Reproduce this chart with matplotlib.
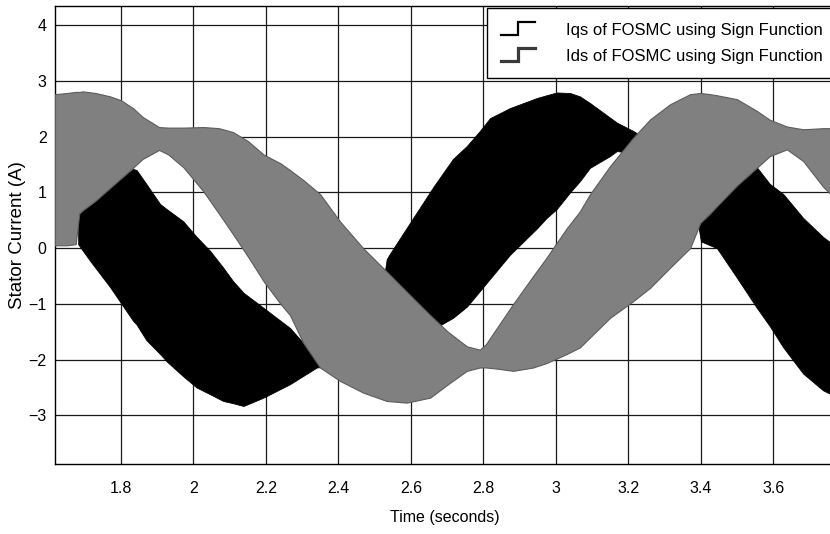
import matplotlib.pyplot as plt
from matplotlib.legend_handler import HandlerBase
from matplotlib.lines import Line2D

plt.rcParams['font.family'] = ['Liberation Sans', 'DejaVu Sans']

# Ids de FOSMC (banda gris): envolvente superior e inferior
t_ids = [1.618, 1.65, 1.675, 1.685, 1.695, 1.73, 1.77, 1.80, 1.833, 1.86, 1.905, 1.93,
         1.972, 2.027, 2.07, 2.109, 2.15, 2.193, 2.24, 2.266, 2.303, 2.349, 2.404, 2.468,
         2.533, 2.588, 2.653, 2.70, 2.754, 2.79, 2.807, 2.837, 2.882, 2.937, 2.974, 3.029,
         3.066, 3.094, 3.149, 3.213, 3.26, 3.315, 3.37, 3.398, 3.425, 3.444, 3.499, 3.554,
         3.59, 3.637, 3.682, 3.737, 3.768]
ids_hi = [2.76, 2.78, 2.80, 2.80, 2.81, 2.78, 2.72, 2.65, 2.51, 2.35, 2.17, 2.16,
          2.16, 2.17, 2.15, 2.08, 1.92, 1.68, 1.52, 1.40, 1.22, 0.97, 0.48, 0.0,
          -0.42, -0.78, -1.2, -1.49, -1.76, -1.82, -1.72, -1.43, -1.0, -0.5, -0.17, 0.35,
          0.66, 0.97, 1.47, 1.98, 2.31, 2.58, 2.76, 2.78, 2.76, 2.74, 2.67, 2.46,
          2.30, 2.18, 2.13, 2.15, 2.15]
ids_lo = [0.05, 0.05, 0.07, 0.62, 0.68, 0.85, 1.08, 1.25, 1.44, 1.60, 1.76, 1.68,
          1.45, 1.02, 0.62, 0.25, -0.15, -0.59, -1.0, -1.2, -1.7, -2.14, -2.38, -2.59,
          -2.74, -2.77, -2.68, -2.45, -2.2, -2.14, -2.14, -2.16, -2.2, -2.14, -2.06, -1.9,
          -1.78, -1.6, -1.25, -0.95, -0.71, -0.35, 0.0, 0.45, 0.62, 0.75, 1.12, 1.44,
          1.65, 1.77, 1.56, 1.1, 0.9]

# Iqs de FOSMC (banda negra)
t_iqs = [1.682, 1.715, 1.77, 1.833, 1.843, 1.87, 1.908, 1.926, 1.972, 2.009, 2.046, 2.082,
         2.109, 2.138, 2.193, 2.266, 2.34, 2.40, 2.45, 2.50, 2.525, 2.533, 2.542, 2.606,
         2.662, 2.716, 2.754, 2.79, 2.818, 2.873, 2.947, 2.974, 3.002, 3.039, 3.066, 3.094,
         3.149, 3.168, 3.213, 3.25, 3.30, 3.37, 3.39, 3.40, 3.444, 3.499, 3.554, 3.59,
         3.627, 3.682, 3.737, 3.768]
iqs_hi = [0.7, 0.9, 1.1, 1.42, 1.40, 1.15, 0.79, 0.7, 0.48, 0.2, -0.05, -0.35,
          -0.59, -0.8, -1.07, -1.43, -1.97, -1.6, -1.2, -0.75, -0.55, -0.2, -0.1, 0.54,
          1.1, 1.6, 1.83, 2.1, 2.33, 2.51, 2.69, 2.74, 2.79, 2.78, 2.72, 2.6,
          2.34, 2.25, 2.1, 1.95, 1.75, 1.6, 1.55, 1.55, 1.5, 1.5, 1.45, 1.15,
          0.97, 0.54, 0.2, 0.05]
iqs_lo = [0.07, -0.23, -0.7, -1.3, -1.37, -1.65, -1.9, -2.03, -2.3, -2.5, -2.62, -2.74,
          -2.78, -2.83, -2.68, -2.44, -2.14, -2.1, -1.9, -1.5, -1.2, -1.1, -1.15, -1.3,
          -1.45, -1.25, -1.05, -0.77, -0.55, -0.12, 0.35, 0.54, 0.7, 1.0, 1.2, 1.44,
          1.65, 1.74, 1.7, 1.5, 1.1, 0.6, 0.5, 0.12, 0.0, -0.53, -1.07, -1.4,
          -1.78, -2.25, -2.55, -2.65]

x_ticks = [1.8, 2.0, 2.2, 2.4, 2.6, 2.8, 3.0, 3.2, 3.4, 3.6]
x_tick_labels = ['1.8', '2', '2.2', '2.4', '2.6', '2.8', '3', '3.2', '3.4', '3.6']
y_ticks = [-3, -2, -1, 0, 1, 2, 3, 4]
labels = ['Iqs of FOSMC using Sign Function', 'Ids of FOSMC using Sign Function']


# icono escalonado de la leyenda
class StepHandler(HandlerBase):
    def create_artists(self, legend, orig_handle, xdescent, ydescent,
                       width, height, fontsize, trans):
        x0, y0 = -xdescent, -ydescent
        xs = [x0, x0 + 0.5 * width, x0 + 0.5 * width, x0 + width]
        ys = [y0, y0, y0 + height, y0 + height]
        linea = Line2D(xs, ys, color=orig_handle.get_color(),
                       lw=orig_handle.get_linewidth(), solid_joinstyle='miter')
        linea.set_transform(trans)
        return [linea]


fig = plt.figure(figsize=(8.3, 5.34), dpi=100)
ax = fig.add_axes([55 / 830, 70 / 534, 779 / 830, 458 / 534])

ax.fill_between(t_iqs, iqs_lo, iqs_hi, color='black', lw=0.6, zorder=2)
ax.fill_between(t_ids, ids_lo, ids_hi, facecolor='#808080', edgecolor='#5c5c5c',
                lw=0.8, zorder=3)

ax.set_xlim(1.618, 3.767)
ax.set_ylim(-3.87, 4.34)
ax.set_xticks(x_ticks, x_tick_labels)
ax.set_yticks(y_ticks)
ax.grid(True, color='#1a1a1a', lw=0.9)
ax.set_axisbelow(True)
ax.tick_params(length=0, labelsize=11.5)
ax.tick_params(axis='x', pad=12)
ax.tick_params(axis='y', pad=6)
for s in ax.spines.values():
    s.set_linewidth(1.0)
    s.set_color('black')

ax.set_xlabel('Time (seconds)', fontsize=11.5, labelpad=10)
ax.set_ylabel('Stator Current (A)', fontsize=13.5, labelpad=2)

manejadores = [Line2D([], [], color='black', lw=1.6),
               Line2D([], [], color='#3a3a3a', lw=2.3)]
leg = ax.legend(manejadores, labels, handler_map={Line2D: StepHandler()},
                loc='upper left', bbox_to_anchor=(0.5546, 0.9956, 0.5, 0),
                mode='expand', borderaxespad=0, fontsize=12, handlelength=2.05,
                handleheight=0.85, handletextpad=1.86, borderpad=0.85,
                labelspacing=0.63, fancybox=False, edgecolor='black', framealpha=1)
leg.get_frame().set_linewidth(1.0)

fig.savefig('out.png', dpi=100)
